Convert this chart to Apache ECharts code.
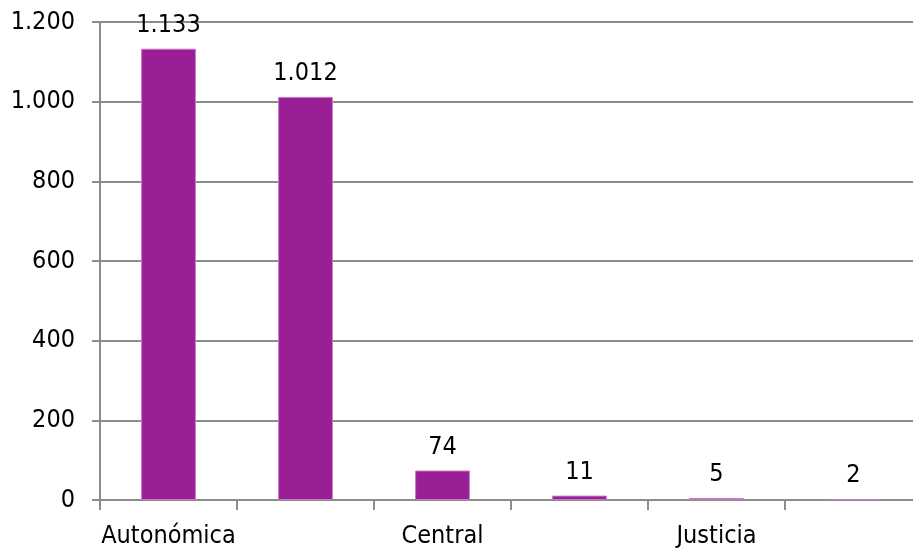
<!DOCTYPE html>
<html>
<head>
<meta charset="utf-8">
<script src="https://cdn.jsdelivr.net/npm/echarts@6/dist/echarts.min.js"></script>
<style>
  html, body { margin: 0; padding: 0; background: #fff; overflow: hidden; }
  /* el área del gráfico sobresale un poco por la derecha, como en el original */
  #chart { width: 922px; height: 549px; }
</style>
</head>
<body>
<div id="chart"></div>
<script>
const categories = ['Autonómica', '', 'Central', '', 'Justicia', ''];
const values = [1133, 1012, 74, 11, 5, 2];
const yTicks = [0, 200, 400, 600, 800, 1000, 1200];

// separador de miles con punto
const fmt = (v) => String(v).replace(/\B(?=(\d{3})+(?!\d))/g, '.');

const chart = echarts.init(document.getElementById('chart'));
const font = 'DejaVu Sans Condensed';

chart.setOption({
  animation: false,
  grid: { left: 100, right: 0, top: 22, bottom: 47, containLabel: false },
  xAxis: {
    type: 'category',
    data: categories,
    axisLine: { lineStyle: { color: '#8c8c8c', width: 2 } },
    axisTick: { show: true, length: 10, lineStyle: { color: '#8c8c8c', width: 2 } },
    axisLabel: { color: '#000', fontFamily: font, fontSize: 25, margin: 24, interval: 0 }
  },
  yAxis: {
    type: 'value',
    min: yTicks[0],
    max: yTicks[yTicks.length - 1],
    interval: 200,
    axisLine: { show: true, lineStyle: { color: '#8c8c8c', width: 2 } },
    axisTick: { show: true, length: 8, lineStyle: { color: '#8c8c8c', width: 2 } },
    splitLine: { lineStyle: { color: '#8c8c8c', width: 2 } },
    axisLabel: { color: '#000', fontFamily: font, fontSize: 25, margin: 25, formatter: fmt }
  },
  series: [{
    type: 'bar',
    data: values,
    barWidth: '40%',
    itemStyle: { color: '#9a1e96', borderColor: '#c47ac2', borderWidth: 1 },
    label: {
      show: true,
      position: 'top',
      distance: 11,
      color: '#000',
      fontFamily: font,
      fontSize: 25,
      formatter: (p) => fmt(p.value)
    }
  }]
});
</script>
</body>
</html>
